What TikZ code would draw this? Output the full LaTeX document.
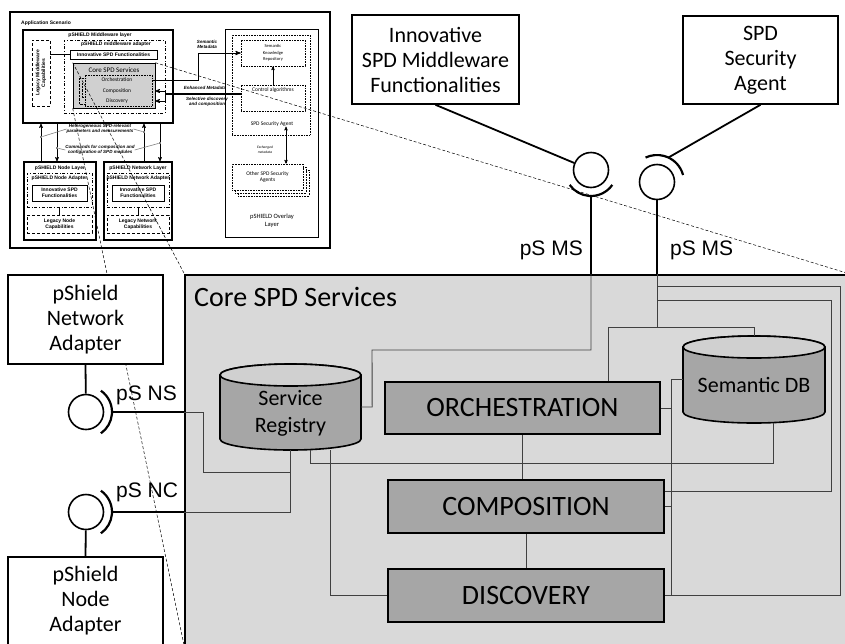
\documentclass[tikz,border=0pt]{standalone}
\usepackage{fontspec}
\setmainfont{Carlito}
\newfontfamily\arialfont{Liberation Sans}
\usepackage{tikz}
\usetikzlibrary{positioning,arrows,fit}
\definecolor{coregray}{HTML}{D9D9D9}
\definecolor{blockgray}{HTML}{A6A6A6}
\definecolor{topgray}{HTML}{D0D0D0}
\definecolor{linkgray}{HTML}{404040}

\begin{document}
\begin{tikzpicture}[x=1pt,y=-1pt,>=stealth',
  box/.style={draw,line width=1.6pt,fill=white,align=center,inner sep=0pt,font=\fontsize{22}{25}\selectfont},
  block/.style={draw,line width=2pt,fill=blockgray,inner sep=0pt,font=\fontsize{28}{30}\selectfont},
  ball/.style={circle,draw,line width=1.6pt,fill=white,minimum size=35pt,inner sep=0pt},
  iface/.style={line width=2.2pt},
  stem/.style={line width=1.8pt},
  iflabel/.style={inner sep=0pt,font=\arialfont\fontsize{21}{24}\selectfont},
  link/.style={draw=linkgray,line width=0.9pt},
  dbline/.style={line width=1.6pt},
  zoomline/.style={dash pattern=on 3pt off 2pt,line width=0.5pt},
  tbox/.style={draw,line width=1.2pt,inner sep=0pt},
  tdash/.style={draw,densely dashed,line width=0.6pt,inner sep=0pt},
  tdot/.style={draw,densely dotted,line width=0.6pt,inner sep=0pt},
  tdashdot/.style={draw,dash dot,line width=0.7pt,inner sep=0pt},
  ttext/.style={inner sep=0pt,align=center,font=\arialfont\bfseries\fontsize{5}{5.6}\selectfont},
  tital/.style={inner sep=0pt,align=center,font=\arialfont\bfseries\itshape\fontsize{4.5}{5.2}\selectfont},
  tsoft/.style={inner sep=0pt,align=center,font=\fontsize{5.5}{6.5}\selectfont},
  leader/.style={draw=gray,line width=0.6pt},
  dot/.style={fill=gray,minimum size=2.5pt,inner sep=0pt}]

    \useasboundingbox (0,0) rectangle (845,643);
    \clip (0,0) rectangle (845,643);

    % The small overview picture
    \node[tbox, fit={(10,12) (330,248)}] (thumb) {};
    \node[ttext, anchor=west] (appscen) at (21,23) {Application Scenario};
    \node[tbox, fit={(23,30) (173,123)}] (mwlayer) {};
    \node[ttext] (mwtitle) at (100,35) {pSHIELD Middleware layer};
    \node[tdash, fit={(32,40) (50,106)}] (legmw) {};
    \node[ttext, rotate=90] (legmwtext) at (legmw.center) {Legacy Middleware\\Capabilities};
    \node[tdashdot, fit={(64,40) (165,113)}] (mwadapt) {};
    \node[ttext] (mwadapttext) at (116,44) {pSHIELD middleware adapter};
    \node[tbox, line width=0.9pt, fit={(70,50) (157,59)}] (tinnov) {};
    \node[ttext] (tinnovtext) at (tinnov.center) {Innovative SPD Functionalities};
    \draw[line width=0.9pt] (legmw.east |- tinnov.west) -- (tinnov.west);
    \node[draw, line width=0.6pt, fill=topgray, fit={(73,63) (155,108)}, inner sep=0pt] (tcore) {};
    \node[tsoft, font=\fontsize{7}{8}\selectfont] (tcoretext) at (114,70) {Core SPD Services};
    \node[tdot, fit={(85,75) (152,106)}] (tinner) {};
    \node[tsoft] (torch) at (117,80) {Orchestration};
    \node[tsoft] (tcomp) at (117,91) {Composition};
    \node[tsoft] (tdisc) at (117,101) {Discovery};
    \draw[densely dotted, line width=0.4pt] (79,78) -- (79,104) -- (86,104);
    \draw[densely dotted, line width=0.4pt] (79,78) -- (86,78);
    \draw[densely dotted, line width=0.4pt] (82,83) -- (82,97) -- (86,97);

    \node[draw, line width=0.8pt, fit={(225,29) (318,237)}, inner sep=0pt] (overlay) {};
    \node[tdot, fit={(232,35) (310,135)}] (tagentbox) {};
    \node[tdot, fit={(241,40) (305,66)}] (tskr) {};
    \node[tsoft, font=\fontsize{4.5}{6.5}\selectfont] (tskrtext) at (tskr.center) {Semantic\\Knowledge\\Repository};
    \node[tdot, fit={(241,85) (305,111)}] (tctrl) {};
    \node[tsoft] (tctrltext) at (273,90) {Control algorithms};
    \node[tsoft] (tagent) at (272,124) {SPD Security Agent};
    \node[tdot, fill=white, fit={(238,170) (309,196)}] (tother3) {};
    \node[tdot, fill=white, fit={(235,167) (306,193)}] (tother2) {};
    \node[tdot, fill=white, fit={(232,164) (303,190)}] (tother) {};
    \node[tsoft] (tothertext) at (tother.center) {Other SPD Security\\Agents};
    \node[tsoft, font=\itshape\fontsize{3.6}{4.6}\selectfont] (texch) at (265,150) {Exchanged\\metadata};
    \node[tsoft, font=\fontsize{6.5}{8}\selectfont] (toverlaytext) at (272,221) {pSHIELD Overlay\\Layer};
    \draw[->, line width=0.5pt] (tctrl.north) -- (tskr.south);
    \draw[<->, line width=0.5pt] ([xshift=14pt]tagent.south) -- ([xshift=14pt]tagent.south |- tother.north);

    \draw[->, line width=0.9pt] (tinner.east |- torch.east) -- ++(46,0) |- (tskr.west);
    \coordinate (tsplit) at (165,94);
    \draw[line width=1.4pt] ([yshift=4pt]tctrl.west) -- (tsplit);
    \draw[->, line width=0.7pt] (tsplit) |- (tcore.east |- tcomp);
    \draw[->, line width=0.7pt] (tsplit) |- (tcore.east |- tdisc);
    \node[tital] (tsemmeta) at (207,44) {Semantic\\Metadata};
    \node[tital] (tenhmeta) at (205,88) {Enhanced Metadata};
    \node[tital] (tselect) at (207,102) {Selective discovery\\and composition};

    \node[tbox, fit={(24,162) (96,240)}] (tnodelayer) {};
    \node[ttext] (tnodelayertext) at (60,168) {pSHIELD Node Layer};
    \node[tdashdot, fit={(27,173) (92,207)}] (tnodeadapt) {};
    \node[ttext] (tnodeadapttext) at (59.5,178) {pSHIELD Node Adapter};
    \node[tbox, line width=0.9pt, fit={(32,185) (87,201)}] (tnodeinnov) {};
    \node[ttext] (tnodeinnovtext) at (tnodeinnov.center) {Innovative SPD\\Functionalities};
    \node[tdash, fit={(27,215) (92,233)}] (tnodelegacy) {};
    \node[ttext] (tnodelegacytext) at (tnodelegacy.center) {Legacy Node\\Capabilities};
    \draw[line width=1pt] (tnodeadapt.south) -- (tnodelegacy.north);

    \node[tbox, fit={(104,162) (172,240)}] (tnetlayer) {};
    \node[ttext] (tnetlayertext) at (138,168) {pSHIELD Network Layer};
    \node[tdashdot, fit={(107,173) (169,207)}] (tnetadapt) {};
    \node[ttext] (tnetadapttext) at (138,178) {pSHIELD Network Adapter};
    \node[tbox, line width=0.9pt, fit={(112,185) (164,201)}] (tnetinnov) {};
    \node[ttext] (tnetinnovtext) at (tnetinnov.center) {Innovative SPD\\Functionalities};
    \node[tdash, fit={(107,215) (169,233)}] (tnetlegacy) {};
    \node[ttext] (tnetlegacytext) at (tnetlegacy.center) {Legacy Network\\Capabilities};
    \draw[line width=1pt] (tnetadapt.south) -- (tnetlegacy.north);

    \draw[->, line width=0.6pt] ([xshift=-19pt]tnodelayer.north) -- ([xshift=-19pt]tnodelayer.north |- mwlayer.south);
    \draw[->, line width=0.6pt] ([xshift=-3pt]tnodelayer.north |- mwlayer.south) -- ([xshift=-3pt]tnodelayer.north);
    \draw[->, line width=0.6pt] ([xshift=6pt]tnetlayer.north) -- ([xshift=6pt]tnetlayer.north |- mwlayer.south);
    \draw[->, line width=0.6pt] ([xshift=22pt]tnetlayer.north |- mwlayer.south) -- ([xshift=22pt]tnetlayer.north);
    \node[tital] (thetero) at (100,129) {Heterogeneous SPD-relevant\\parameters and measurements};
    \node[tital] (tcmd) at (100,150) {Commands for composition and\\configuration of SPD modules};
    \node[dot] (hdot1) at (41,137) {};
    \node[dot] (hdot2) at (144,132) {};
    \node[dot] (cdot1) at (57,148) {};
    \node[dot] (cdot2) at (160,143) {};
    \path[leader] (thetero.west) edge (hdot1) (thetero.east) edge (hdot2)
                  (tcmd.west) edge (cdot1) (tcmd.east) edge (cdot2);

    % Zoom lines
    \coordinate (corenw) at (185,275);
    \coordinate (corene) at (850,274);
    \coordinate (coresw) at (185,650);
    \draw[zoomline] (tcore.north west) -- (corenw);
    \draw[zoomline] (tcore.north east) -- (corene);
    \draw[zoomline] (tcore.south west) -- (coresw);

    % The core
    \node[draw, line width=2.2pt, fill=coregray, minimum width=665pt, minimum height=375pt, inner sep=0pt] (core) at (517.5,462.5) {};
    \node[anchor=west, inner sep=0pt, font=\fontsize{28}{30}\selectfont] (coretitle) at (194,297) {Core SPD Services};

    \node[block, minimum width=275pt, minimum height=52pt] (orch) at (522.5,408) {ORCHESTRATION};
    \node[block, minimum width=276pt, minimum height=53pt] (comp) at (526,506.5) {COMPOSITION};
    \node[block, minimum width=276pt, minimum height=53pt] (disc) at (526,595.5) {DISCOVERY};

    % Databases
    \node[minimum width=141pt, minimum height=86pt, inner sep=0pt] (reg) at (290.5,407) {};
    \draw[dbline, fill=blockgray] (220,375) -- (220,439) arc (180:0:70.5 and 11) -- (361,375) arc (0:-180:70.5 and 11) -- cycle;
    \draw[dbline, fill=topgray] (290.5,375) ellipse (70.5 and 11);
    \node[align=center, font=\fontsize{22}{27}\selectfont] (regtext) at ([yshift=-6.5pt]reg.center) {Service\\Registry};

    \node[minimum width=142pt, minimum height=87pt, inner sep=0pt] (sdb) at (754,379.5) {};
    \draw[dbline, fill=blockgray] (683,347) -- (683,412) arc (180:0:71 and 11) -- (825,347) arc (0:-180:71 and 11) -- cycle;
    \draw[dbline, fill=topgray] (754,347) ellipse (71 and 11);
    \node[font=\fontsize{22}{26}\selectfont] (sdbtext) at ([yshift=-5.5pt]sdb.center) {Semantic DB};

    % Outer components
    \node[box, minimum width=167pt, minimum height=89pt] (innov) at (435.5,59.5) {Innovative\\SPD Middleware\\Functionalities};
    \node[box, minimum width=155pt, minimum height=88pt] (agent) at (760.5,60) {SPD\\Security\\Agent};
    \node[box, minimum width=155pt, minimum height=89pt] (netadapt) at (85.5,319.5) {pShield\\Network\\Adapter};
    \node[box, minimum width=155pt, minimum height=88pt] (nodeadapt) at (85.5,601) {pShield\\Node\\Adapter};

    % Interfaces
    \node[ball] (msball1) at (591,170) {};
    \node[ball] (msball2) at (657,182) {};
    \node[ball] (nsball) at (86,412) {};
    \node[ball] (ncball) at (86,512) {};

    \draw[stem] (innov.south) -- (msball1);
    \draw[iface] ([shift={(35:26)}]msball1.center) arc (35:145:26);
    \coordinate (ms1sock) at ([yshift=-26pt]msball1.center);
    \coordinate (ms1core) at (ms1sock |- core.north);
    \draw[iface] (ms1sock) -- (ms1core);

    \coordinate (ms2sock) at ([shift={(-65:27)}]msball2.center);
    \draw[stem] (agent.south) -- (ms2sock);
    \draw[iface] ([shift={(-15:27)}]msball2.center) arc (-15:-115:27);
    \coordinate (ms2core) at (msball2.south |- core.north);
    \draw[iface] (msball2.south) -- (ms2core);

    \draw[stem] (netadapt.south) -- (nsball);
    \draw[iface] ([shift={(-55:26)}]nsball.center) arc (-55:55:26);
    \coordinate (nssock) at ([xshift=26pt]nsball.center);
    \coordinate (nscore) at (nssock -| core.west);
    \draw[iface] (nssock) -- (nscore);

    \draw[stem] (nodeadapt.north) -- (ncball);
    \draw[iface] ([shift={(-55:26)}]ncball.center) arc (-55:55:26);
    \coordinate (ncsock) at ([xshift=26pt]ncball.center);
    \coordinate (nccore) at (ncsock -| core.west);
    \draw[iface] (ncsock) -- (nccore);

    \node[iflabel, anchor=west] (nslabel) at (116,395) {pS NS};
    \node[iflabel, anchor=west] (nclabel) at (116,492) {pS NC};
    \node[iflabel, anchor=east] (mslabel1) at (583,250) {pS MS};
    \node[iflabel, anchor=west] (mslabel2) at (670,250) {pS MS};

    % Links inside the core
    \draw[link] (nscore) -| (203,472) -| (reg.south);
    \draw[link] (nccore) -| (reg.south);
    \draw[link] (reg.east) -- ++(11,0) -- (372,350) -| (ms1core);
    \draw[link] ([xshift=19.5pt]reg.south) -- ++(0,13) -| ([xshift=19pt]sdb.south);
    \draw[link] ([xshift=39.5pt]reg.south) |- (disc.west);
    \draw[link] (orch.south) -- (orch.south |- comp.north);
    \draw[link] (comp.south) -- (disc.north);

    \draw[link] (ms2core) -- ++(0,53) coordinate (ms2c);
    \draw[link] ([xshift=85.5pt]orch.north) -- ++(0,-54) -| (sdb.north);
    \coordinate (ms2a) at ([yshift=-27pt]ms2core);
    \coordinate (ms2b) at ([yshift=-13pt]ms2core);
    \draw[link] (ms2a) -| (831,491) -- ([yshift=15.5pt]comp.east);
    \draw[link] (ms2b) -| ([xshift=175pt]disc.east) -- (disc.east);

    \draw[link] (sdb.west) -- ++(-11,0) coordinate (sj) -- (sj |- disc.east);
    \draw[link] (orch.east) -- (orch.east -| sj);
    \draw[link] (comp.east) -- (comp.east -| sj);
\end{tikzpicture}
\end{document}
